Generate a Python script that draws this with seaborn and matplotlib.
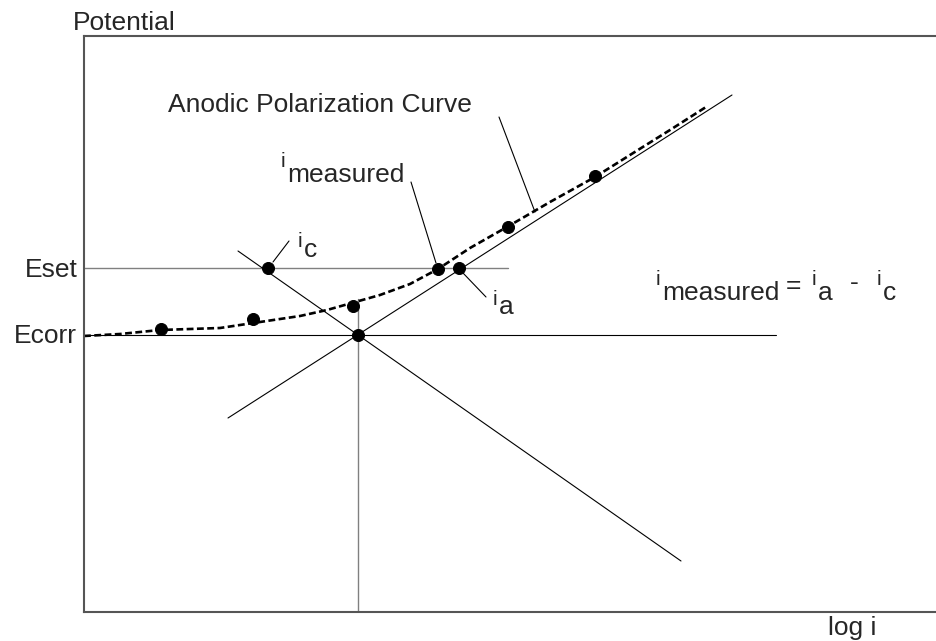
import numpy as np
import pandas as pd
import seaborn as sns
import matplotlib.pyplot as plt

# schematic units: log i along x, potential along y (arbitrary)
e_corr = 2.77
e_set = 3.44
log_icorr = 2.74

ecorr_line_x = [0.0, 6.92]
eset_line_x = [0.0, 4.24]
icorr_line_y = [0.0, 3.13]

anodic_x = [1.44, 6.48]
anodic_y = [1.94, 5.17]
cathodic_x = [1.54, 5.97]
cathodic_y = [3.61, 0.51]

curve_x = [0.0, 0.36, 0.76, 1.36, 1.76, 2.16, 2.43, 2.96, 3.26, 3.54,
           3.86, 4.23, 4.66, 5.11, 5.46, 5.86, 6.22]
curve_y = [2.76, 2.78, 2.82, 2.84, 2.90, 2.96, 3.02, 3.17, 3.28, 3.43,
           3.64, 3.85, 4.10, 4.35, 4.57, 4.82, 5.05]

dots_x = [0.77, 1.69, 2.69, 3.54, 3.75, 4.24, 5.11, 1.84, 2.74]
dots_y = [2.83, 2.93, 3.06, 3.43, 3.44, 3.85, 4.36, 3.44, 2.77]

# leader lines: (x0, y0, x1, y1)
leaders = {
    "anodic": (4.15, 4.95, 4.51, 4.00),
    "measured": (3.27, 4.30, 3.52, 3.49),
    "ia": (3.79, 3.39, 4.02, 3.15),
    "ic": (1.89, 3.50, 2.05, 3.71),
}

sns.set_style("white")
plt.rcParams["font.family"] = ["Liberation Sans", "DejaVu Sans"]

fig = plt.figure(figsize=(9.37, 6.41), dpi=100)
ax = fig.add_axes([84 / 937, 29 / 641, 853 / 937, 576 / 641])
ax.set_xlim(0, 8.53)
ax.set_ylim(0, 5.76)

thin = dict(color="black", linewidth=0.8)
grey = dict(color="#808080", linewidth=1.0)

sns.lineplot(x=ecorr_line_x, y=[e_corr, e_corr], ax=ax, **thin)
sns.lineplot(x=eset_line_x, y=[e_set, e_set], ax=ax, **grey)
ax.plot([log_icorr, log_icorr], icorr_line_y, **grey)
sns.lineplot(x=anodic_x, y=anodic_y, ax=ax, **thin)
sns.lineplot(x=cathodic_x, y=cathodic_y, ax=ax, **thin)

curve = pd.DataFrame({"x": curve_x, "y": curve_y})
sns.lineplot(data=curve, x="x", y="y", sort=False, ax=ax, color="black",
             linewidth=1.9, linestyle=(0, (2.6, 1.3)))

for x0, y0, x1, y1 in leaders.values():
    ax.plot([x0, x1], [y0, y1], color="black", linewidth=0.8)

sns.scatterplot(x=dots_x, y=dots_y, ax=ax, color="black", s=75,
                edgecolor="black", zorder=5)

for side in ["left", "top", "bottom"]:
    ax.spines[side].set_color("#555555")
    ax.spines[side].set_linewidth(1.5)
ax.spines["right"].set_visible(False)
ax.set_xticks([])
ax.set_yticks([])
ax.set_xlabel("")
ax.set_ylabel("")

big = 19
small = 15
ax.text(-0.11, 5.82, "Potential", fontsize=big, va="baseline", clip_on=False)
ax.text(7.44, -0.23, "log i", fontsize=big, va="baseline", clip_on=False)
ax.text(-0.06, 3.35, "Eset", fontsize=big, ha="right", va="baseline", clip_on=False)
ax.text(-0.07, 2.69, "Ecorr", fontsize=big, ha="right", va="baseline", clip_on=False)
ax.text(0.84, 5.00, "Anodic Polarization Curve", fontsize=big, va="baseline")


def i_label(x, y, sub, drop_px, gap_pt=4.3):
    ax.text(x, y, "i", fontsize=small, va="baseline")
    ax.annotate(sub, xy=(x, y), xytext=(gap_pt, -drop_px * 0.72),
                textcoords="offset points", fontsize=big, va="baseline")


i_label(2.14, 3.65, "c", 10)
i_label(4.09, 3.07, "a", 9)
i_label(1.97, 4.45, "measured", 15)

# equation
i_label(5.72, 3.27, "measured", 15)
ax.text(7.02, 3.19, "=", fontsize=big, va="baseline")
i_label(7.28, 3.27, "a", 15)
ax.text(7.66, 3.22, "-", fontsize=big, va="baseline")
i_label(7.93, 3.27, "c", 15)

fig.savefig("out.png", dpi=100)
